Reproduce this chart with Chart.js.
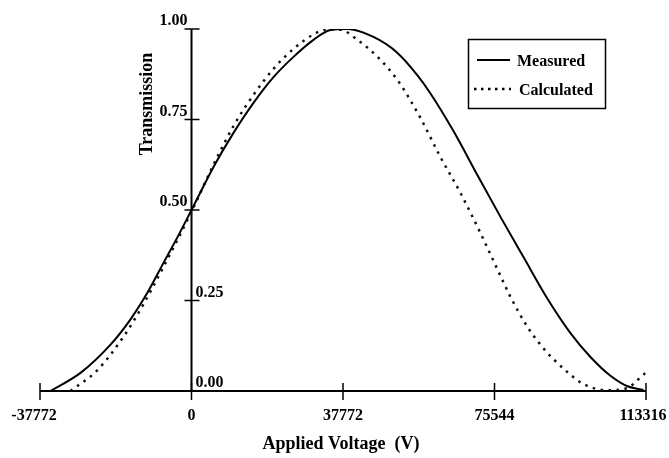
<!DOCTYPE html>
<html>
<head>
<meta charset="utf-8">
<script src="https://cdn.jsdelivr.net/npm/chart.js@4/dist/chart.umd.min.js"></script>
<style>
  html, body { margin: 0; padding: 0; background: #fff; }
  #wrap { width: 669px; height: 458px; }
</style>
</head>
<body>
<div id="wrap"><canvas id="chart"></canvas></div>
<script>
// axis ticks
const xTicks = [-37772, 0, 37772, 75544, 113316];
const yTicks = [0, 0.25, 0.5, 0.75, 1];
const yTickLabels = ["0.00", "0.25", "0.50", "0.75", "1.00"];

// measured curve
const measuredX = [-35151, -27672, -20193, -15207, -10969, -6980, -3490, 0, 5485, 10471, 15457, 20443, 25429, 30415, 34653, 38891, 45373, 51356, 56342, 59583, 65317, 71300, 77034, 82768, 88751, 94485, 99471, 104457, 108695, 112684];
const measuredY = [0, 0.05, 0.128, 0.198, 0.272, 0.354, 0.425, 0.5, 0.619, 0.713, 0.796, 0.867, 0.923, 0.97, 0.997, 1.0, 0.978, 0.934, 0.872, 0.822, 0.718, 0.596, 0.481, 0.37, 0.255, 0.16, 0.094, 0.042, 0.013, 0.003];

// calculated curve
const calculatedX = [-30165, -23434, -16952, -11966, -6980, -3490, -748, 0, 5485, 10471, 15457, 20443, 25429, 30415, 33905, 37146, 41384, 46370, 51356, 57089, 62076, 67062, 72048, 77034, 79527, 83765, 87006, 88751, 90247, 93737, 96978, 100219, 103709, 108695, 111188, 113182];
const calculatedY = [0, 0.058, 0.15, 0.24, 0.343, 0.418, 0.478, 0.495, 0.625, 0.732, 0.818, 0.89, 0.945, 0.985, 0.999, 0.998, 0.97, 0.923, 0.859, 0.754, 0.646, 0.547, 0.436, 0.318, 0.26, 0.177, 0.128, 0.105, 0.088, 0.052, 0.024, 0.008, 0.002, 0.008, 0.03, 0.05];

const toPoints = (xs, ys) => xs.map((x, i) => ({ x, y: ys[i] }));

const serif = '"Liberation Serif", "DejaVu Serif", serif';

// axes crossing at x = 0, tick labels, titles and boxed legend
const axesPlugin = {
	id: "crossAxes",
	beforeDatasetsDraw(chart) {
		const { ctx } = chart;
		const xs = chart.scales.x;
		const ys = chart.scales.y;
		const x0 = xs.getPixelForValue(0);
		const yb = ys.getPixelForValue(0);

		ctx.save();
		ctx.strokeStyle = "#000";
		ctx.fillStyle = "#000";
		ctx.lineWidth = 2;

		// axis lines
		ctx.beginPath();
		ctx.moveTo(xs.left, yb);
		ctx.lineTo(xs.right, yb);
		ctx.moveTo(x0, ys.top);
		ctx.lineTo(x0, yb);
		ctx.stroke();

		// x ticks
		ctx.lineWidth = 1.5;
		ctx.font = "bold 16px " + serif;
		ctx.textAlign = "center";
		ctx.textBaseline = "alphabetic";
		xTicks.forEach((v) => {
			const px = xs.getPixelForValue(v);
			ctx.beginPath();
			ctx.moveTo(px, yb - 8);
			ctx.lineTo(px, yb + 9);
			ctx.stroke();
			let lx = px;
			if (v === xTicks[0]) lx = px - 6;
			if (v === xTicks[xTicks.length - 1]) lx = Math.min(px, chart.width - 26);
			ctx.fillText(String(v), lx, yb + 29);
		});

		// y ticks
		yTicks.forEach((v, i) => {
			const py = ys.getPixelForValue(v);
			if (v !== 0) {
				ctx.beginPath();
				ctx.moveTo(x0 - 7, py);
				ctx.lineTo(x0 + 8, py);
				ctx.stroke();
			}
			if (v >= 0.5) {
				ctx.textAlign = "right";
				ctx.fillText(yTickLabels[i], x0 - 4, py - 4);
			} else {
				ctx.textAlign = "left";
				ctx.fillText(yTickLabels[i], x0 + 4, py - 4);
			}
		});

		// axis titles
		ctx.font = "bold 18px " + serif;
		ctx.textAlign = "center";
		ctx.fillText("Applied Voltage  (V)", 341, 449);
		ctx.save();
		ctx.translate(152, 104);
		ctx.rotate(-Math.PI / 2);
		ctx.fillText("Transmission", 0, 0);
		ctx.restore();

		// legend
		ctx.lineWidth = 1.5;
		ctx.strokeRect(468.5, 39.5, 137, 69);
		ctx.lineWidth = 2;
		ctx.beginPath();
		ctx.moveTo(477, 60);
		ctx.lineTo(510, 60);
		ctx.stroke();
		ctx.setLineDash([2.5, 4.5]);
		ctx.lineWidth = 2.5;
		ctx.beginPath();
		ctx.moveTo(474, 89);
		ctx.lineTo(511, 89);
		ctx.stroke();
		ctx.setLineDash([]);
		ctx.font = "bold 16px " + serif;
		ctx.textAlign = "left";
		ctx.fillText("Measured", 517, 66);
		ctx.fillText("Calculated", 519, 95);
		ctx.restore();
	},
};

new Chart(document.getElementById("chart"), {
	type: "line",
	data: {
		datasets: [
			{
				label: "Measured",
				data: toPoints(measuredX, measuredY),
				borderColor: "#000",
				borderWidth: 2,
				pointRadius: 0,
				cubicInterpolationMode: "monotone",
				fill: false,
			},
			{
				label: "Calculated",
				data: toPoints(calculatedX, calculatedY),
				borderColor: "#111",
				borderWidth: 2.5,
				borderDash: [2.5, 5.5],
				pointRadius: 0,
				cubicInterpolationMode: "monotone",
				fill: false,
			},
		],
	},
	options: {
		responsive: true,
		maintainAspectRatio: false,
		animation: false,
		layout: { padding: { left: 40, right: 23, top: 29, bottom: 67 } },
		plugins: {
			legend: { display: false },
			tooltip: { enabled: false },
		},
		scales: {
			x: { type: "linear", min: -37772, max: 113316, display: false },
			y: { min: 0, max: 1, display: false },
		},
	},
	plugins: [axesPlugin],
});
</script>
</body>
</html>
